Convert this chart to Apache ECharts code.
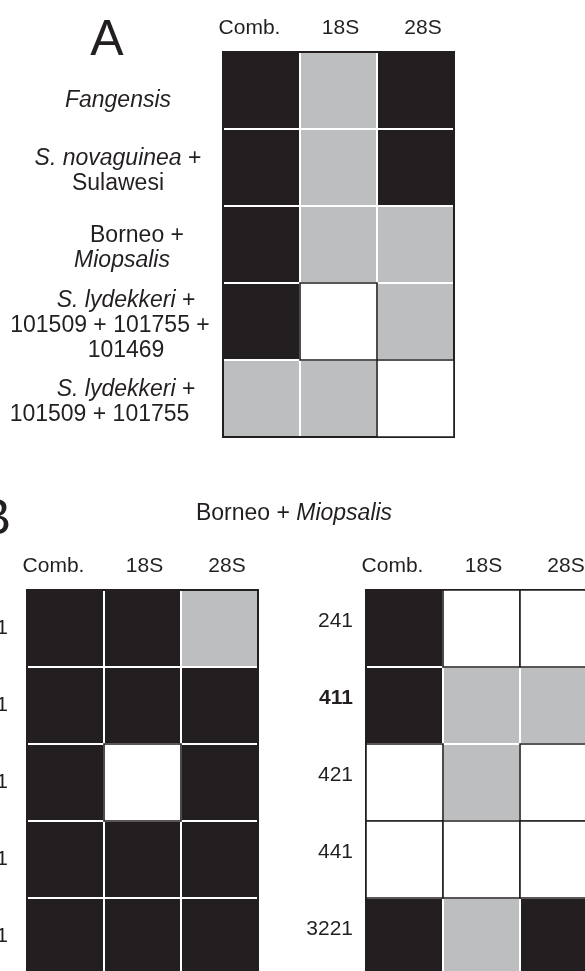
<!DOCTYPE html>
<html>
<head>
<meta charset="utf-8">
<script src="https://cdn.jsdelivr.net/npm/echarts@6/dist/echarts.min.js"></script>
<style>
  html, body { margin: 0; padding: 0; background: #fff; }
  #chart { width: 585px; height: 971px; }
</style>
</head>
<body>
<div id="chart"></div>
<script>
// Support codes: 2 = strong (black), 1 = weak (grey), 0 = not recovered (white)
const columns = ['Comb.', '18S', '28S'];

const rowsA = [
  'Fangensis',
  'S. novaguinea + Sulawesi',
  'Borneo + Miopsalis',
  'S. lydekkeri + 101509 + 101755 + 101469',
  'S. lydekkeri + 101509 + 101755'
];
const supportA = [
  [2, 1, 2],
  [2, 1, 2],
  [2, 1, 1],
  [2, 0, 1],
  [1, 1, 0]
];

const rowsB = ['241', '411', '421', '441', '3221'];
const supportBLeft = [
  [2, 2, 1],
  [2, 2, 2],
  [2, 0, 2],
  [2, 2, 2],
  [2, 2, 2]
];
const supportBRight = [
  [2, 0, 0],
  [2, 1, 1],
  [0, 1, 0],
  [0, 0, 0],
  [2, 1, 2]
];

const INK = '#231f20';
const GREY = '#bcbec0';
const FONT = '"Liberation Sans", Arial, Helvetica, sans-serif';

// rich-text markup for the multi-line taxon labels of panel A
const labelMarkupA = {
  'Fangensis': '{iT|Fangensis}',
  'S. novaguinea + Sulawesi': '{i|S. novaguinea}{n| +}\n{n|Sulawesi}',
  'Borneo + Miopsalis': '{nL38|Borneo +}\n{iL8|Miopsalis}',
  'S. lydekkeri + 101509 + 101755 + 101469': '{iL16|S. lydekkeri}{n| +}\n{nR16|101509 + 101755 +}\n{nL16|101469}',
  'S. lydekkeri + 101509 + 101755': '{iL16|S. lydekkeri}{n| +}\n{nR37|101509 + 101755}'
};

function frag(italic, pad) {
  return { fontFamily: FONT, fontSize: 23, lineHeight: 25, color: INK,
           fontStyle: italic ? 'italic' : 'normal', padding: pad || [0, 0, 0, 0] };
}
const richA = {
  i: frag(true), n: frag(false),
  iT: frag(true, [12, 0, 0, 0]),
  nL38: frag(false, [0, 0, 0, 38]), iL8: frag(true, [0, 0, 0, 8]),
  iL16: frag(true, [0, 0, 0, 16]), nR16: frag(false, [0, 16, 0, 0]),
  nL16: frag(false, [0, 0, 0, 16]), nR37: frag(false, [0, 37, 0, 0])
};

// column headers sit slightly off the column centres
const headerRich = {
  c0: { fontFamily: FONT, fontSize: 21, color: INK, padding: [0, 24, 0, 0] },
  c1: { fontFamily: FONT, fontSize: 21, color: INK, padding: [0, 0, 0, 4] },
  c2: { fontFamily: FONT, fontSize: 21, color: INK, padding: [0, 0, 0, 15] }
};
function headerFormatter(value, idx) { return '{c' + idx + '|' + value + '}'; }

function cellData(matrix) {
  const out = [];
  matrix.forEach((row, r) => row.forEach((v, c) => out.push([c, r, v])));
  return out;
}

function renderCell(params, api) {
  const ctr = api.coord([api.value(0), api.value(1)]);
  const sz = api.size([1, 1]);
  const v = api.value(2);
  const x = ctr[0] - sz[0] / 2, y = ctr[1] - sz[1] / 2;
  if (v === 0) {
    return { type: 'rect', z2: 10,
      shape: { x: x, y: y, width: sz[0], height: sz[1] },
      style: { fill: '#fff', stroke: INK, lineWidth: 1.6 } };
  }
  return { type: 'rect', z2: 1,
    shape: { x: x + 1, y: y + 1, width: sz[0] - 2, height: sz[1] - 2 },
    style: { fill: v === 2 ? INK : GREY } };
}

const gridBase = { width: 231, height: 385, show: true, borderColor: INK, borderWidth: 2,
                   backgroundColor: 'transparent', containLabel: false, outerBoundsMode: 'none' };

const chart = echarts.init(document.getElementById('chart'), null, { renderer: 'canvas' });

const option = {
  animation: false,
  backgroundColor: '#fff',
  textStyle: { fontFamily: FONT },
  grid: [
    Object.assign({ left: 223, top: 52 }, gridBase),
    Object.assign({ left: 27, top: 590 }, gridBase),
    Object.assign({ left: 366, top: 590 }, gridBase)
  ],
  xAxis: [0, 1, 2].map(g => ({
    type: 'category', gridIndex: g, data: columns, position: 'top',
    axisLine: { show: false }, axisTick: { show: false }, splitLine: { show: false },
    axisLabel: { interval: 0, hideOverlap: false, margin: 24, verticalAlign: 'middle',
                 formatter: headerFormatter, rich: headerRich }
  })),
  yAxis: [
    {
      type: 'category', gridIndex: 0, inverse: true, data: rowsA,
      axisLine: { show: false }, axisTick: { show: false }, splitLine: { show: false },
      axisLabel: { interval: 0, margin: 105, align: 'center', verticalAlign: 'middle', padding: [8, 0, 0, 0],
                   formatter: v => labelMarkupA[v], rich: richA }
    },
    {
      type: 'category', gridIndex: 1, inverse: true, data: rowsB,
      axisLine: { show: false }, axisTick: { show: false }, splitLine: { show: false },
      axisLabel: { interval: 0, margin: 19, align: 'right', verticalAlign: 'middle', padding: [0, 0, 14, 0],
                   fontFamily: FONT, fontSize: 21, color: INK }
    },
    {
      type: 'category', gridIndex: 2, inverse: true, data: rowsB,
      axisLine: { show: false }, axisTick: { show: false }, splitLine: { show: false },
      axisLabel: { interval: 0, margin: 13, align: 'right', verticalAlign: 'middle', padding: [0, 0, 14, 0],
                   formatter: v => v === '411' ? '{b|' + v + '}' : '{r|' + v + '}',
                   rich: {
                     r: { fontFamily: FONT, fontSize: 21, color: INK },
                     b: { fontFamily: FONT, fontSize: 21, color: INK, fontWeight: 'bold' }
                   } }
    }
  ],
  series: [
    { type: 'custom', xAxisIndex: 0, yAxisIndex: 0, renderItem: renderCell, data: cellData(supportA) },
    { type: 'custom', xAxisIndex: 1, yAxisIndex: 1, renderItem: renderCell, data: cellData(supportBLeft) },
    { type: 'custom', xAxisIndex: 2, yAxisIndex: 2, renderItem: renderCell, data: cellData(supportBRight) }
  ],
  graphic: [
    { type: 'text', x: 107, y: 41,
      style: { text: 'A', font: '50px ' + FONT, fill: INK, align: 'center', verticalAlign: 'middle' } },
    { type: 'text', x: 11, y: 520,
      style: { text: 'B', font: '50px ' + FONT, fill: INK, align: 'right', verticalAlign: 'middle' } },
    { type: 'text', x: 294, y: 514,
      style: { text: '{n|Borneo + }{i|Miopsalis}', align: 'center', verticalAlign: 'middle',
               rich: {
                 n: { fontFamily: FONT, fontSize: 23, fill: INK, color: INK },
                 i: { fontFamily: FONT, fontSize: 23, fontStyle: 'italic', fill: INK, color: INK }
               } } }
  ]
};

chart.setOption(option);
</script>
</body>
</html>
